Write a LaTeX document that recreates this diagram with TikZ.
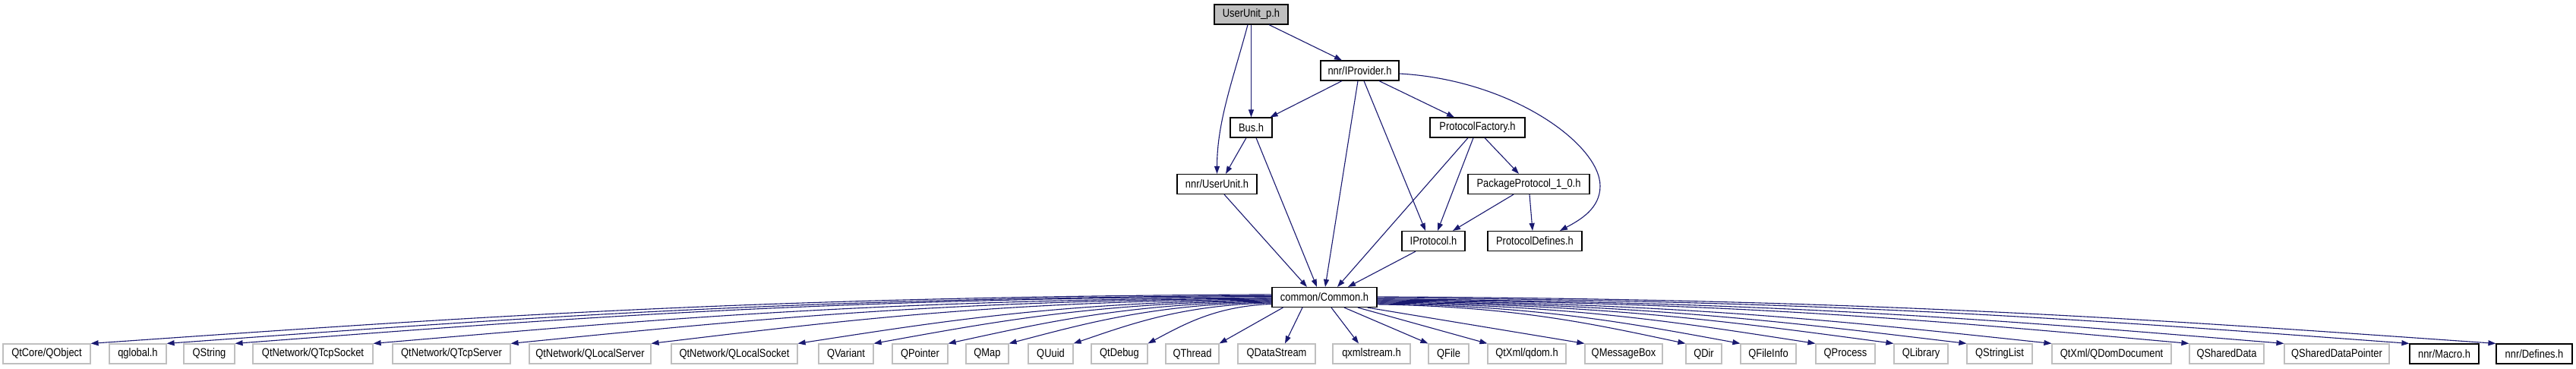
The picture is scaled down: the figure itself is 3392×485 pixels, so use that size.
\documentclass[tikz,border=0pt]{standalone}
\usepackage{fontspec}
\setmainfont{Liberation Sans}[FakeStretch=0.86]
\usetikzlibrary{arrows.meta,calc}
\definecolor{edgeblue}{HTML}{191970}
\definecolor{extgray}{HTML}{BFBFBF}
\newcommand\ledge[2]{\draw[edge] let \p1=([yshift=-#2pt]cm.north west), \p2=(#1.north east), \n1={\x1-\x2}, \n2={\y1-\y2} in (\p1) .. controls +(-0.45*\n1,-3pt) and +(0.3*\n1,0.5*\n2) .. (\p2);}
\newcommand\redge[2]{\draw[edge] let \p1=([yshift=-#2pt]cm.north east), \p2=(#1.north west), \n1={\x2-\x1}, \n2={\y1-\y2} in (\p1) .. controls +(0.45*\n1,-3pt) and +(-0.3*\n1,0.5*\n2) .. (\p2);}
\begin{document}
\begin{tikzpicture}[x=1pt,y=-1pt,
 box/.style={draw=black, line width=1.2pt, fill=white, minimum height=26pt, inner sep=0pt, font=\fontsize{15}{17}\selectfont},
 ext/.style={box, draw=extgray},
 root/.style={box, fill=extgray},
 edge/.style={draw=edgeblue, line width=1.1pt, -{Triangle[length=10pt,width=7pt]}}]
\fill[white] (0,0) rectangle (3392,485);
\useasboundingbox (0,0) rectangle (3392,485);
% upper part
\node[root, minimum width=97pt]  (uup) at (1647.5,19) {UserUnit\_p.h};
\node[box, minimum width=103pt]  (ipr) at (1790.5,93) {nnr/IProvider.h};
\node[box, minimum width=55pt]   (bus) at (1647.5,168) {Bus.h};
\node[box, minimum width=125pt]  (pf)  at (1945.5,168) {ProtocolFactory.h};
\node[box, minimum width=105pt]  (uu)  at (1602.5,242.5) {nnr/UserUnit.h};
\node[box, minimum width=160pt]  (pp)  at (2013,242.5) {PackageProtocol\_1\_0.h};
\node[box, minimum width=83pt]   (ip)  at (1887.5,317.5) {IProtocol.h};
\node[box, minimum width=124pt]  (pd)  at (2021,317.5) {ProtocolDefines.h};
\node[box, minimum width=138pt]  (cm)  at (1744,391.5) {common/Common.h};
% bottom row
\node[ext, minimum width=115pt] (b1)  at (61.5,466) {QtCore/QObject};
\node[ext, minimum width=75pt]  (b2)  at (181.5,466) {qglobal.h};
\node[ext, minimum width=67pt]  (b3)  at (275.5,466) {QString};
\node[ext, minimum width=158pt] (b4)  at (412,466) {QtNetwork/QTcpSocket};
\node[ext, minimum width=155pt] (b5)  at (594.5,466) {QtNetwork/QTcpServer};
\node[ext, minimum width=160pt] (b6)  at (777,466) {QtNetwork/QLocalServer};
\node[ext, minimum width=166pt] (b7)  at (967,466) {QtNetwork/QLocalSocket};
\node[ext, minimum width=72pt]  (b8)  at (1114,466) {QVariant};
\node[ext, minimum width=73pt]  (b9)  at (1211.5,466) {QPointer};
\node[ext, minimum width=56pt]  (b10) at (1300,466) {QMap};
\node[ext, minimum width=59pt]  (b11) at (1383.5,466) {QUuid};
\node[ext, minimum width=74pt]  (b12) at (1474,466) {QtDebug};
\node[ext, minimum width=70pt]  (b13) at (1570,466) {QThread};
\node[ext, minimum width=102pt] (b14) at (1681,466) {QDataStream};
\node[ext, minimum width=102pt] (b15) at (1806,466) {qxmlstream.h};
\node[ext, minimum width=53pt]  (b16) at (1907.5,466) {QFile};
\node[ext, minimum width=103pt] (b17) at (2010.5,466) {QtXml/qdom.h};
\node[ext, minimum width=102pt] (b18) at (2138,466) {QMessageBox};
\node[ext, minimum width=47pt]  (b19) at (2243.5,466) {QDir};
\node[ext, minimum width=73pt]  (b20) at (2328.5,466) {QFileInfo};
\node[ext, minimum width=78pt]  (b21) at (2430,466) {QProcess};
\node[ext, minimum width=71pt]  (b22) at (2529.5,466) {QLibrary};
\node[ext, minimum width=86pt]  (b23) at (2633,466) {QStringList};
\node[ext, minimum width=157pt] (b24) at (2780.5,466) {QtXml/QDomDocument};
\node[ext, minimum width=98pt]  (b25) at (2932,466) {QSharedData};
\node[ext, minimum width=138pt] (b26) at (3077,466) {QSharedDataPointer};
\node[box, minimum width=91pt]  (b27) at (3218.5,466) {nnr/Macro.h};
\node[box, minimum width=100pt] (b28) at (3337,466) {nnr/Defines.h};
% upper edges
\draw[edge] ([xshift=23.5pt]uup.south) -- ([xshift=-23.5pt]ipr.north);
\draw[edge] (uup.south) -- (bus.north);
\draw[edge] ([xshift=-4.5pt]uup.south) .. controls +(-18,68) and +(0,-70) .. (uu.north);
\draw[edge] ([xshift=-23.5pt]ipr.south) -- ([xshift=-3pt]bus.north east);
\draw[edge] ([xshift=25.5pt]ipr.south) -- ([xshift=-30.5pt]pf.north);
\draw[edge] ([xshift=5.5pt]ipr.south) -- ([xshift=-10.5pt]ip.north);
\draw[edge] ([xshift=-2.5pt]ipr.south) -- ([xshift=1pt]cm.north);
\draw[edge] ([yshift=-4pt]ipr.east) .. controls (1990,105) and (2107,190) .. (2107,245) .. controls (2107,275) and (2080,290) .. ([xshift=33pt]pd.north);
\draw[edge] ([xshift=-6.5pt]bus.south) -- ([xshift=11.5pt]uu.north);
\draw[edge] ([xshift=6.5pt]bus.south) -- ([xshift=-10pt]cm.north);
\draw[edge] ([xshift=9.5pt]uu.south) -- ([xshift=-23pt]cm.north);
\draw[edge] ([xshift=-12.5pt]pf.south) -- ([xshift=17pt]cm.north);
\draw[edge] ([xshift=-5.5pt]pf.south) -- ([xshift=5.5pt]ip.north);
\draw[edge] ([xshift=9.5pt]pf.south) -- ([xshift=-13pt]pp.north);
\draw[edge] ([xshift=-20pt]pp.south) -- ([xshift=25.5pt]ip.north);
\draw[edge] ([xshift=1pt]pp.south) -- ([xshift=-3pt]pd.north);
\draw[edge] ([xshift=-23.5pt]ip.south) -- ([xshift=31pt]cm.north);
% lower edges, left
\ledge{b1}{10}
\ledge{b2}{11.5}
\ledge{b3}{12.5}
\ledge{b4}{14}
\ledge{b5}{15}
\ledge{b6}{16}
\ledge{b7}{17}
\ledge{b8}{18}
\ledge{b9}{19}
\ledge{b10}{20}
\ledge{b11}{21}
\ledge{b12}{22.5}
\draw[edge] ([xshift=15pt]cm.south west) -- (b13.north east);
\draw[edge] ([xshift=-29pt]cm.south) -- ([xshift=11pt]b14.north);
% lower edges, right
\draw[edge] ([xshift=9pt]cm.south) -- ([xshift=-17pt]b15.north);
\draw[edge] ([xshift=26pt]cm.south) -- (b16.north west);
\draw[edge] ([xshift=44pt]cm.south) -- (b17.north west);
\draw[edge] ([xshift=-13pt]cm.south east) -- (b18.north west);
\redge{b19}{23}
\redge{b20}{22}
\redge{b21}{21}
\redge{b22}{20}
\redge{b23}{19}
\redge{b24}{18}
\redge{b25}{17}
\redge{b26}{16}
\redge{b27}{14.5}
\redge{b28}{13}
\end{tikzpicture}
\end{document}
